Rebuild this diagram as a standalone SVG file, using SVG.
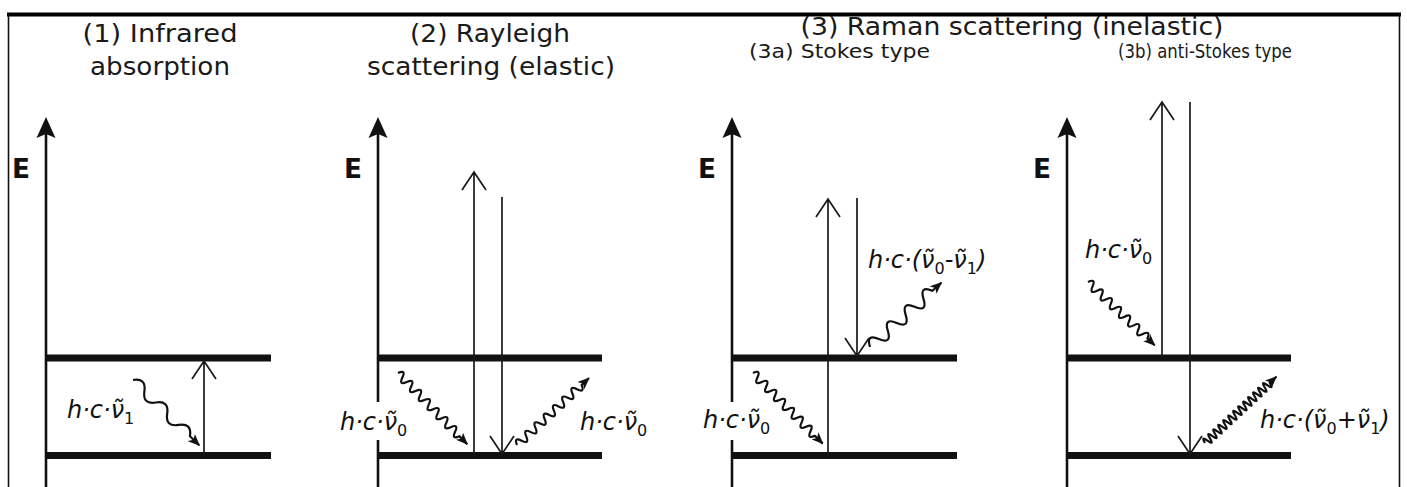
<svg xmlns="http://www.w3.org/2000/svg" width="1407" height="487" viewBox="0 0 1407 487">
<style>
.title{font-family:"DejaVu Sans",sans-serif;font-size:24px;fill:#1a1a1a;text-anchor:middle}
.sub{font-family:"DejaVu Sans",sans-serif;font-size:20px;fill:#1a1a1a}
.E{font-family:"DejaVu Sans",sans-serif;font-weight:bold;font-size:27px;fill:#111}
.f{font-family:"DejaVu Sans",sans-serif;font-style:italic;font-size:24px;fill:#111}
.s{font-size:16px;font-style:normal}
.axis{stroke:#111;stroke-width:2.6;fill:none}
.lvl{stroke:#111;stroke-width:7;fill:none}
.tr{stroke:#1a1a1a;stroke-width:1.7;fill:none}
.wv{stroke:#111;stroke-width:2.2;fill:none;stroke-linejoin:round}
.ah{fill:#111}
</style>
<defs>
<marker id="ahf" viewBox="0 0 12 10" refX="11" refY="5" markerWidth="12" markerHeight="10" markerUnits="userSpaceOnUse" orient="auto">
<path d="M0,0 L12,5 L0,10 L3,5 Z" fill="#111"/>
</marker>
</defs>
<rect x="0" y="0" width="1407" height="487" fill="#fff"/>
<g id="frame">
<line x1="7" y1="14.5" x2="1401" y2="14.5" stroke="#000" stroke-width="4"/>
<line x1="8.5" y1="13" x2="8.5" y2="487" stroke="#111" stroke-width="1.6"/>
<line x1="1399.5" y1="13" x2="1399.5" y2="487" stroke="#111" stroke-width="1.6"/>
</g>
<g id="titles">
<text class="title" x="160" y="42" textLength="155" lengthAdjust="spacingAndGlyphs">(1) Infrared</text>
<text class="title" x="160" y="75" textLength="140" lengthAdjust="spacingAndGlyphs">absorption</text>
<text class="title" x="490" y="42" textLength="160" lengthAdjust="spacingAndGlyphs">(2) Rayleigh</text>
<text class="title" x="491" y="75" textLength="248" lengthAdjust="spacingAndGlyphs">scattering (elastic)</text>
<text class="title" x="1012" y="35" textLength="423" lengthAdjust="spacingAndGlyphs">(3) Raman scattering (inelastic)</text>
<text class="sub" x="749" y="58" textLength="181" lengthAdjust="spacingAndGlyphs">(3a) Stokes type</text>
<text class="sub" x="1118" y="58" font-size="19" textLength="174" lengthAdjust="spacingAndGlyphs">(3b) anti-Stokes type</text>
</g>

<g id="panel1">
<text class="E" x="12" y="178" textLength="18" lengthAdjust="spacingAndGlyphs">E</text>
<line class="axis" x1="46" y1="487" x2="46" y2="134"/>
<path class="ah" d="M46,117 L55.5,138 L46,134 L36.5,138 Z"/>
<line class="lvl" x1="46" y1="358" x2="271" y2="358"/>
<line class="lvl" x1="46" y1="455.5" x2="271" y2="455.5"/>
<text class="f" x="67" y="418">h·c·ν̃<tspan class="s" dy="6">1</tspan></text>
</g>

<g id="panel2">
<text class="E" x="344" y="178" textLength="18" lengthAdjust="spacingAndGlyphs">E</text>
<line class="axis" x1="378" y1="487" x2="378" y2="134"/>
<path class="ah" d="M378,117 L387.5,138 L378,134 L368.5,138 Z"/>
<line class="lvl" x1="378" y1="358" x2="602" y2="358"/>
<line class="lvl" x1="378" y1="455.5" x2="602" y2="455.5"/>
<rect x="372" y="402" width="12" height="38" fill="#fff"/>
<text class="f" x="340" y="430">h·c·ν̃<tspan class="s" dy="6">0</tspan></text>
<text class="f" x="580" y="430">h·c·ν̃<tspan class="s" dy="6">0</tspan></text>
</g>

<g id="panel3">
<text class="E" x="698" y="178" textLength="18" lengthAdjust="spacingAndGlyphs">E</text>
<line class="axis" x1="732" y1="487" x2="732" y2="134"/>
<path class="ah" d="M732,117 L741.5,138 L732,134 L722.5,138 Z"/>
<line class="lvl" x1="732" y1="358" x2="957" y2="358"/>
<line class="lvl" x1="732" y1="455.5" x2="957" y2="455.5"/>
<rect x="726" y="402" width="12" height="38" fill="#fff"/>
<text class="f" x="703" y="428">h·c·ν̃<tspan class="s" dy="6">0</tspan></text>
<text class="f" x="868" y="268">h·c·(ν̃<tspan class="s" dy="6">0</tspan><tspan dy="-6">-ν̃</tspan><tspan class="s" dy="6">1</tspan><tspan dy="-6">)</tspan></text>
</g>

<g id="panel4">
<text class="E" x="1033" y="178" textLength="18" lengthAdjust="spacingAndGlyphs">E</text>
<line class="axis" x1="1067" y1="487" x2="1067" y2="134"/>
<path class="ah" d="M1067,117 L1076.5,138 L1067,134 L1057.5,138 Z"/>
<line class="lvl" x1="1067" y1="358" x2="1291" y2="358"/>
<line class="lvl" x1="1067" y1="455.5" x2="1291" y2="455.5"/>
<text class="f" x="1085" y="258">h·c·ν̃<tspan class="s" dy="6">0</tspan></text>
<text class="f" x="1260" y="428">h·c·(ν̃<tspan class="s" dy="6">0</tspan><tspan dy="-6">+ν̃</tspan><tspan class="s" dy="6">1</tspan><tspan dy="-6">)</tspan></text>
</g>

<g id="connectors">
<path class="tr" d="M204,455 L204,361 M192,379 L204,361 L216,379"/>
<path class="tr" d="M474,455 L474,172 M462,190 L474,172 L486,190"/>
<path class="tr" d="M502,197 L502,454 M490,436 L502,454 L514,436"/>
<path class="tr" d="M828,455 L828,199 M816,217 L828,199 L840,217"/>
<path class="tr" d="M857,198 L857,356 M845,338 L857,356 L869,338"/>
<path class="tr" d="M1162,356 L1162,102 M1150,120 L1162,102 L1174,120"/>
<path class="tr" d="M1190,102 L1190,454 M1178,436 L1190,454 L1202,436"/>
<g transform="translate(133,380) rotate(44.6)">
<path class="wv" marker-end="url(#ahf)" d="M0,0 q8,-11 16,0 t16,0 t16,0 t16,0 t16,0 l13,0"/>
</g>
<g transform="translate(398,373) rotate(45.8)">
<path class="wv" marker-end="url(#ahf)" d="M0,0 q3.15,-8.5 6.3,0 t6.3,0 t6.3,0 t6.3,0 t6.3,0 t6.3,0 t6.3,0 t6.3,0 t6.3,0 t6.3,0 t6.3,0 t6.3,0 t6.3,0 t6.3,0 l11,0"/>
</g>
<g transform="translate(517,445) rotate(-42.9)">
<path class="wv" marker-end="url(#ahf)" d="M0,0 q3.15,-8.5 6.3,0 t6.3,0 t6.3,0 t6.3,0 t6.3,0 t6.3,0 t6.3,0 t6.3,0 t6.3,0 t6.3,0 t6.3,0 t6.3,0 t6.3,0 t6.3,0 l10,0"/>
</g>
<g transform="translate(753,373) rotate(45.4)">
<path class="wv" marker-end="url(#ahf)" d="M0,0 q3.15,-8.5 6.3,0 t6.3,0 t6.3,0 t6.3,0 t6.3,0 t6.3,0 t6.3,0 t6.3,0 t6.3,0 t6.3,0 t6.3,0 t6.3,0 t6.3,0 t6.3,0 l11,0"/>
</g>
<g transform="translate(870,347) rotate(-42)">
<path class="wv" marker-end="url(#ahf)" d="M0,0 q6,-13 12,0 t12,0 t12,0 t12,0 t12,0 t12,0 t12,0 l12,0"/>
</g>
<g transform="translate(1088,282) rotate(43.5)">
<path class="wv" marker-end="url(#ahf)" d="M0,0 q3.15,-8.5 6.3,0 t6.3,0 t6.3,0 t6.3,0 t6.3,0 t6.3,0 t6.3,0 t6.3,0 t6.3,0 t6.3,0 t6.3,0 t6.3,0 t6.3,0 l10,0"/>
</g>
<g transform="translate(1205,443) rotate(-42.9)">
<path class="wv" marker-end="url(#ahf)" d="M0,0 q1.7,-8.5 3.4,0 t3.4,0 t3.4,0 t3.4,0 t3.4,0 t3.4,0 t3.4,0 t3.4,0 t3.4,0 t3.4,0 t3.4,0 t3.4,0 t3.4,0 t3.4,0 t3.4,0 t3.4,0 t3.4,0 t3.4,0 t3.4,0 t3.4,0 t3.4,0 t3.4,0 t3.4,0 t3.4,0 t3.4,0 t3.4,0 l9,0"/>
</g>
</g>
</svg>
